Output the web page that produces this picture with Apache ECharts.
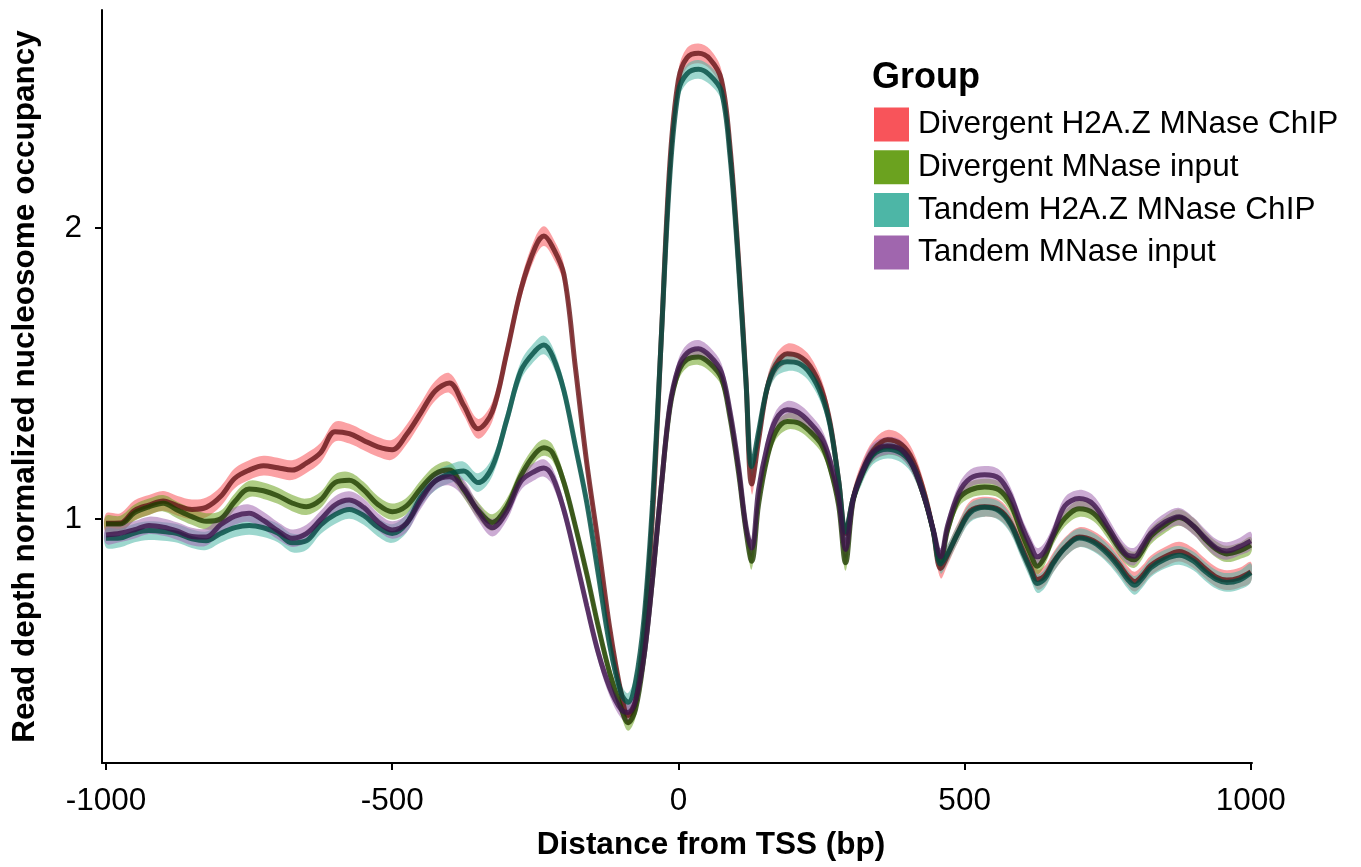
<!DOCTYPE html>
<html><head><meta charset="utf-8">
<script src="https://cdn.jsdelivr.net/npm/echarts@6/dist/echarts.min.js"></script>
<style>html,body{margin:0;padding:0;background:#fff}#c{width:1361px;height:867px}</style>
</head><body><div id="c"></div>
<script>
const distance = [-1000,-975,-950,-925,-900,-875,-850,-825,-800,-775,-750,-725,-700,-675,-650,-625,-600,-575,-550,-525,-500,
  -475,-450,-425,-400,-375,-350,-325,-300,-275,-250,-235,-220,
  -200,-180,-160,-140,-120,-100,-88,-75,-60,-45,-30,-15,
  0,15,35,55,75,90,105,118,
  128,140,155,170,190,210,230,250,265,280,292,
  305,320,340,365,390,410,430,445,
  458,
  470,490,510,535,560,580,600,615,627,640,655,675,700,725,750,770,785,797,810,825,850,875,900,920,940,958,980,1000];

const divergentChIP = [0.985,0.986,1.030,1.048,1.062,1.045,1.033,1.040,1.077,1.140,1.168,1.183,1.176,1.168,1.192,1.228,1.300,1.293,1.270,1.248,1.238,
  1.290,1.365,1.440,1.467,1.390,1.310,1.370,1.570,1.790,1.935,1.972,1.935,
  1.840,1.520,1.190,0.915,0.625,0.400,0.325,0.370,0.620,1.020,1.620,2.220,
  2.510,2.585,2.600,2.580,2.510,2.280,1.890,1.480,
  1.120,1.270,1.450,1.530,1.568,1.560,1.525,1.445,1.330,1.130,0.950,
  1.070,1.160,1.235,1.272,1.255,1.200,1.085,0.960,
  0.830,
  0.875,0.960,1.028,1.042,1.032,0.988,0.900,0.835,0.792,0.805,0.852,0.902,0.938,0.925,0.888,0.843,0.803,0.785,0.805,0.840,0.870,0.888,0.865,0.830,0.800,0.790,0.798,0.818];

const divergentInput = [0.983,0.983,1.022,1.042,1.054,1.030,1.008,0.992,1.000,1.060,1.103,1.097,1.080,1.055,1.042,1.066,1.125,1.133,1.100,1.050,1.025,
  1.045,1.105,1.155,1.168,1.100,1.030,0.988,1.042,1.150,1.225,1.245,1.228,
  1.125,0.975,0.810,0.630,0.470,0.350,0.300,0.345,0.530,0.800,1.110,1.380,
  1.505,1.548,1.557,1.535,1.485,1.350,1.160,0.960,
  0.855,1.050,1.210,1.300,1.335,1.330,1.300,1.255,1.175,1.045,0.850,
  1.060,1.150,1.225,1.248,1.235,1.180,1.070,0.960,
  0.855,
  0.960,1.070,1.100,1.110,1.100,1.052,0.950,0.880,0.838,0.870,0.940,1.002,1.035,1.020,0.960,0.900,0.868,0.860,0.890,0.940,0.980,1.005,0.975,0.930,0.895,0.880,0.890,0.910];

const tandemChIP = [0.934,0.935,0.952,0.960,0.957,0.950,0.932,0.925,0.950,0.970,0.978,0.970,0.952,0.918,0.925,0.980,1.015,1.033,1.012,0.972,0.950,
  0.985,1.075,1.130,1.155,1.165,1.125,1.180,1.340,1.510,1.578,1.598,1.560,
  1.440,1.250,1.055,0.810,0.565,0.400,0.370,0.440,0.660,1.060,1.620,2.180,
  2.470,2.530,2.545,2.525,2.470,2.250,1.870,1.470,
  1.180,1.300,1.450,1.520,1.540,1.535,1.500,1.425,1.320,1.130,0.955,
  1.070,1.150,1.220,1.240,1.225,1.180,1.075,0.960,
  0.845,
  0.880,0.958,1.022,1.040,1.028,0.982,0.892,0.825,0.778,0.795,0.848,0.900,0.935,0.920,0.880,0.833,0.792,0.772,0.795,0.832,0.862,0.875,0.855,0.820,0.792,0.782,0.790,0.815];

const tandemInput = [0.945,0.951,0.963,0.978,0.972,0.958,0.940,0.938,0.980,1.010,1.020,0.995,0.960,0.934,0.950,0.998,1.048,1.065,1.040,0.990,0.962,
  0.985,1.065,1.130,1.145,1.105,1.025,0.970,1.025,1.130,1.165,1.175,1.145,
  1.030,0.870,0.700,0.540,0.420,0.345,0.335,0.375,0.530,0.800,1.110,1.390,
  1.520,1.570,1.585,1.560,1.505,1.370,1.180,0.975,
  0.900,1.100,1.250,1.340,1.375,1.365,1.330,1.280,1.200,1.070,0.895,
  1.065,1.155,1.230,1.252,1.238,1.182,1.072,0.965,
  0.870,
  0.975,1.090,1.140,1.152,1.140,1.080,0.975,0.910,0.870,0.890,0.950,1.045,1.070,1.050,0.975,0.910,0.875,0.872,0.905,0.950,0.990,1.008,0.975,0.935,0.900,0.890,0.905,0.925];

const groupNames = ['Divergent H2A.Z MNase ChIP','Divergent MNase input','Tandem H2A.Z MNase ChIP','Tandem MNase input'];
const bandHalfWidth = [0.034, 0.028, 0.032, 0.030];
const xTicks = [-1000, -500, 0, 500, 1000];
const yTicks = [1, 2];

const FONT = 'Liberation Sans, Arial, Helvetica, sans-serif';
const values = [divergentChIP, divergentInput, tandemChIP, tandemInput];
const fills = ['#F8545A', '#6BA21F', '#4DB6A6', '#A066AE'];
const bandFills = ['rgba(248,84,90,0.55)', 'rgba(107,162,31,0.55)', 'rgba(77,182,166,0.55)', 'rgba(160,102,174,0.55)'];
const lineColors = ['rgb(100,20,22)', 'rgb(30,60,0)', 'rgb(0,75,65)', 'rgb(60,20,75)'];
const SM = 0.35;

const series = [];
values.forEach((v, g) => {
  const se = bandHalfWidth[g];
  series.push({
    type: 'custom', name: 'band' + g, silent: true, z: 1, clip: true,
    data: [[distance[0], v[0]]],
    renderItem: function (params, api) {
      const up = distance.map((x, i) => api.coord([x, v[i] + se]));
      const lo = distance.map((x, i) => api.coord([x, v[i] - se])).reverse();
      return { type: 'polygon', shape: { points: up.concat(lo), smooth: SM }, style: { fill: bandFills[g], stroke: 'none' } };
    }
  });
});
values.forEach((v, g) => {
  series.push({
    type: 'line', name: groupNames[g], z: 3,
    data: distance.map((x, i) => [x, v[i]]),
    symbol: 'none', smooth: SM,
    itemStyle: { color: fills[g] },
    lineStyle: { color: lineColors[g], width: 5, opacity: 0.8 }
  });
});

const chart = echarts.init(document.getElementById('c'), null, { renderer: 'canvas' });
chart.setOption({
  animation: false,
  backgroundColor: '#fff',
  title: {
    text: 'Group', left: 872, top: 60, padding: 0,
    textStyle: { fontSize: 36, fontWeight: 'bold', color: '#000', fontFamily: FONT }
  },
  legend: {
    orient: 'vertical', left: 874, top: 107.5, padding: 0,
    itemWidth: 35, itemHeight: 34, itemGap: 8.7, icon: 'rect',
    itemStyle: { borderWidth: 0 },
    textStyle: { fontSize: 31.5, color: '#000', fontFamily: FONT, padding: [0, 0, 0, 4] },
    data: groupNames.map((n, i) => ({ name: n, itemStyle: { color: fills[i] } }))
  },
  grid: { left: 102, right: 109, top: 10, bottom: 104, containLabel: false },
  xAxis: {
    type: 'value', min: -1007, max: 1002,
    name: 'Distance from TSS (bp)', nameLocation: 'middle', nameGap: 66,
    nameTextStyle: { fontSize: 31.5, fontWeight: 'bold', color: '#000', fontFamily: FONT, padding: [0, 0, 0, 68] },
    axisLine: { show: true, onZero: false, lineStyle: { color: '#000', width: 2 } },
    axisTick: { show: true, length: 7, customValues: xTicks, lineStyle: { color: '#000', width: 2 } },
    axisLabel: { customValues: xTicks, fontSize: 31.5, color: '#000', margin: 22, fontFamily: FONT,
      formatter: (val) => String(val) },
    splitLine: { show: false }
  },
  yAxis: {
    type: 'value', min: 0.1615, max: 2.749,
    name: 'Read depth normalized nucleosome occupancy', nameLocation: 'middle', nameGap: 61,
    nameTextStyle: { fontSize: 31.5, fontWeight: 'bold', color: '#000', fontFamily: FONT },
    axisLine: { show: true, onZero: false, lineStyle: { color: '#000', width: 2 } },
    axisTick: { show: true, length: 7, customValues: yTicks, lineStyle: { color: '#000', width: 2 } },
    axisLabel: { customValues: yTicks, fontSize: 31.5, color: '#000', margin: 20, fontFamily: FONT,
      formatter: (val) => String(val) },
    splitLine: { show: false }
  },
  series: series
});
</script></body></html>
